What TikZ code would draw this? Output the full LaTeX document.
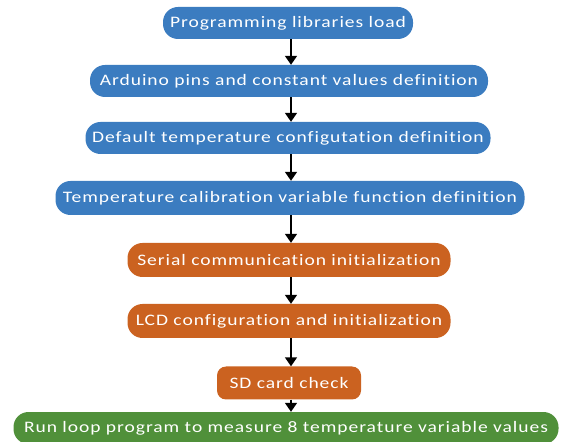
\documentclass[tikz,border=0pt]{standalone}
\usepackage{fontspec}
\setmainfont{Carlito}[LetterSpace=6, FakeStretch=1.22, Ligatures=NoCommon]
\usetikzlibrary{arrows.meta}
\definecolor{boxblue}{HTML}{3B7CC0}
\definecolor{boxorange}{HTML}{CB6220}
\definecolor{boxgreen}{HTML}{50903A}
\tikzset{
  flowbox/.style={draw=none, text=white, font=\fontsize{16}{18}\selectfont,
    minimum height=32pt, inner sep=0pt, rounded corners=15pt},
  bluebox/.style={flowbox, fill=boxblue},
  orangebox/.style={flowbox, fill=boxorange},
  greenbox/.style={flowbox, fill=boxgreen},
  flowarrow/.style={draw=black, line width=1.6pt, -{Triangle[width=12pt,length=9pt]}}
}
\begin{document}
\begin{tikzpicture}[x=1pt,y=1pt]
\useasboundingbox (0,0) rectangle (561,441);
\clip (0,0) rectangle (561,441);
\node[bluebox, minimum width=250pt] (n1) at (288,418) {Programming libraries load};
\node[bluebox, minimum width=398pt] (n2) at (289,360) {Arduino pins and constant values definition};
\node[bluebox, minimum width=405pt] (n3) at (288,303) {Default temperature configutation definition};
\node[bluebox, minimum width=469pt, minimum height=34pt] (n4) at (290,243) {Temperature calibration variable function definition};
\node[orangebox, minimum width=323pt, minimum height=34pt] (n5) at (289,181) {Serial communication initialization};
\node[orangebox, minimum width=323pt, minimum height=34pt] (n6) at (289,120) {LCD configuration and initialization};
\node[orangebox, minimum width=144pt, minimum height=33pt, rounded corners=9pt] (n7) at (289,58) {SD card check};
\node[greenbox, minimum width=545pt, minimum height=32pt] (n8) at (286,13) {Run loop program to measure 8 temperature variable values};
\foreach \a/\b in {n1/n2,n2/n3,n3/n4,n4/n5,n5/n6,n6/n7,n7/n8}
  \draw[flowarrow] (\a.south -| 291,0) -- (\b.north -| 291,0);
\end{tikzpicture}
\end{document}
